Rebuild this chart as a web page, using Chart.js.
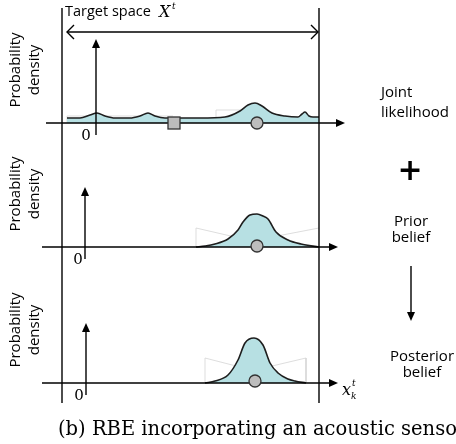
<!DOCTYPE html>
<html>
<head>
<meta charset="utf-8">
<script src="https://cdn.jsdelivr.net/npm/chart.js@4.4.0/dist/chart.umd.js"></script>
<style>
  html, body { margin: 0; padding: 0; background: #ffffff; }
  #wrap { width: 456px; height: 444px; }
</style>
</head>
<body>
<div id="wrap"><canvas id="rbeChart" width="456" height="444"></canvas></div>
<script>
// Schematic units: x = position in target space, y = height on the page (down)
const panelBase = [123, 247, 383];

// Joint likelihood curve (heights above panel axis)
const jointX = [67, 80, 90, 97, 105, 115, 130, 140, 148, 155, 165, 200, 225, 240, 248, 255, 262, 272, 285, 298, 302, 305, 309, 313, 319];
const jointH = [5, 5, 8, 10, 7, 5, 5, 7, 10, 7, 5, 5, 6, 12, 18, 20, 17, 10, 7, 6, 9, 11, 7, 6, 6];

// Prior belief curve
const priorX = [196, 205, 215, 228, 238, 243, 250, 257, 263, 268, 276, 288, 301, 319];
const priorH = [0, 1, 3, 8, 17, 25, 32, 33, 31, 28, 15, 7, 3, 0];

// Posterior belief curve
const postX = [205, 215, 228, 238, 245, 254, 263, 270, 278, 288, 295, 306];
const postH = [0, 2, 8, 23, 40, 45, 38, 20, 10, 4, 2, 0];

// Faint ghost outlines of truncated priors
const ghostJointX = [67, 67, 173];
const ghostJointY = [123, 116, 116];
const ghostJoint2X = [216, 216, 240];
const ghostJoint2Y = [123, 110, 110];
const ghostPriorLX = [196, 196, 235];
const ghostPriorLY = [247, 228, 237];
const ghostPriorRX = [272, 319];
const ghostPriorRY = [237, 228];
const ghostPostLX = [205, 205, 236];
const ghostPostLY = [383, 358, 366];
const ghostPostRX = [272, 306, 306];
const ghostPostRY = [366, 358, 383];

// Markers: square = acoustic estimate, circles = target position
const squareX = [174];
const squareY = [123];
const circleX = [257, 257, 255];
const circleY = [123, 246, 381];

function curvePoints(xs, hs, base) {
    return xs.map((x, i) => ({ x: x, y: base - hs[i] }));
}
function pairPoints(xs, ys) {
    return xs.map((x, i) => ({ x: x, y: ys[i] }));
}

const fillColor = '#b7e0e3';
const lineColor = '#1e1e1e';
const sansFont = '"Open Sans", sans-serif';
const serifFont = '"DejaVu Serif", serif';

function curveDataset(xs, hs, base) {
    return {
        type: 'line',
        data: curvePoints(xs, hs, base),
        borderColor: lineColor,
        borderWidth: 1.6,
        backgroundColor: fillColor,
        fill: { value: base },
        pointRadius: 0,
        cubicInterpolationMode: 'monotone',
        order: 3
    };
}
function ghostDataset(xs, ys) {
    return {
        type: 'line',
        data: pairPoints(xs, ys),
        borderColor: '#d4d4d4',
        borderWidth: 0.8,
        fill: false,
        pointRadius: 0,
        tension: 0,
        order: 5
    };
}

// Axes, arrows and texts drawn over the plot area
const schematicPlugin = {
    id: 'schematic',
    afterDatasetsDraw(chart) {
        const ctx = chart.ctx;
        const xs = chart.scales.x, ys = chart.scales.y;
        const px = v => xs.getPixelForValue(v);
        const py = v => ys.getPixelForValue(v);

        ctx.save();
        ctx.strokeStyle = '#000';
        ctx.fillStyle = '#000';
        ctx.lineWidth = 1.4;

        function line(x1, y1, x2, y2) {
            ctx.beginPath();
            ctx.moveTo(px(x1), py(y1));
            ctx.lineTo(px(x2), py(y2));
            ctx.stroke();
        }
        function headRight(x, y) {
            ctx.beginPath();
            ctx.moveTo(px(x), py(y));
            ctx.lineTo(px(x) - 9, py(y) - 4);
            ctx.lineTo(px(x) - 9, py(y) + 4);
            ctx.closePath();
            ctx.fill();
        }
        function headUp(x, y) {
            ctx.beginPath();
            ctx.moveTo(px(x), py(y));
            ctx.lineTo(px(x) - 4, py(y) + 9);
            ctx.lineTo(px(x) + 4, py(y) + 9);
            ctx.closePath();
            ctx.fill();
        }
        function headDown(x, y) {
            ctx.beginPath();
            ctx.moveTo(px(x), py(y));
            ctx.lineTo(px(x) - 4, py(y) - 9);
            ctx.lineTo(px(x) + 4, py(y) - 9);
            ctx.closePath();
            ctx.fill();
        }

        // target space bounds
        line(62, 8, 62, 403);
        line(319, 8, 319, 403);

        // double-headed arrow across target space
        line(67, 32, 318, 32);
        ctx.beginPath();
        ctx.moveTo(px(74), py(25)); ctx.lineTo(px(67), py(32)); ctx.lineTo(px(74), py(39));
        ctx.moveTo(px(311), py(25)); ctx.lineTo(px(318), py(32)); ctx.lineTo(px(311), py(39));
        ctx.stroke();

        // panel axes
        const axisStart = [46, 42, 42];
        const axisEnd = [345, 338, 338];
        const yArrowX = [96, 85, 86];
        const yArrowTop = [39, 187, 323];
        const zeroX = [86, 78, 79];
        panelBase.forEach((b, i) => {
            line(axisStart[i], b, axisEnd[i] - 6, b);
            headRight(axisEnd[i], b);
            line(yArrowX[i], b + 12, yArrowX[i], yArrowTop[i] + 6);
            headUp(yArrowX[i], yArrowTop[i]);

            ctx.font = '15px ' + serifFont;
            ctx.textAlign = 'center';
            ctx.textBaseline = 'middle';
            ctx.fillText('0', px(zeroX[i]), py(b + 13));

            ctx.save();
            ctx.translate(px(16), py(b - 53));
            ctx.rotate(-Math.PI / 2);
            ctx.font = '15px ' + sansFont;
            ctx.fillText('Probability', 0, 0);
            ctx.fillText('density', 0, 19);
            ctx.restore();
        });

        // title
        ctx.textAlign = 'left';
        ctx.textBaseline = 'middle';
        ctx.font = '14.5px ' + sansFont;
        ctx.fillText('Target space', px(65), py(12));
        ctx.font = 'italic 16px ' + serifFont;
        ctx.fillText('X', px(159), py(13));
        ctx.font = 'italic 9px ' + serifFont;
        ctx.fillText('t', px(172), py(7));

        // x_k^t label
        ctx.font = 'italic 16px ' + serifFont;
        ctx.fillText('x', px(342), py(391));
        ctx.font = 'italic 9px ' + serifFont;
        ctx.fillText('t', px(352), py(384));
        ctx.fillText('k', px(351), py(397));

        // right-hand labels
        ctx.font = '15px ' + sansFont;
        ctx.fillText('Joint', px(381), py(93));
        ctx.fillText('likelihood', px(381), py(113));
        ctx.textAlign = 'center';
        ctx.font = 'bold 30px "DejaVu Sans", sans-serif';
        ctx.fillText('+', px(410), py(172));
        ctx.font = '15px ' + sansFont;
        ctx.fillText('Prior', px(411), py(222));
        ctx.fillText('belief', px(411), py(238));
        ctx.fillText('Posterior', px(422), py(357));
        ctx.fillText('belief', px(422), py(373));

        ctx.lineWidth = 1.4;
        line(411, 266, 411, 312);
        headDown(411, 321);

        // caption
        ctx.textAlign = 'left';
        ctx.textBaseline = 'alphabetic';
        ctx.font = '19.5px ' + serifFont;
        ctx.fillText('(b) RBE incorporating an acoustic sensor', px(58), py(435));

        ctx.restore();
    },
    afterDraw(chart) {
        // markers sit on top of the axes
        const mctx = chart.ctx;
        const sx = chart.scales.x, sy = chart.scales.y;
        mctx.save();
        mctx.fillStyle = '#bdbdbd';
        mctx.strokeStyle = '#333';
        mctx.lineWidth = 1.3;
        squareX.forEach((x, i) => {
            const X = sx.getPixelForValue(x), Y = sy.getPixelForValue(squareY[i]);
            mctx.fillRect(X - 6, Y - 6, 12, 12);
            mctx.strokeRect(X - 6, Y - 6, 12, 12);
        });
        circleX.forEach((x, i) => {
            const X = sx.getPixelForValue(x), Y = sy.getPixelForValue(circleY[i]);
            mctx.beginPath();
            mctx.arc(X, Y, 6, 0, Math.PI * 2);
            mctx.fill();
            mctx.stroke();
        });
        mctx.restore();
    }
};

const ctx = document.getElementById('rbeChart').getContext('2d');
new Chart(ctx, {
    type: 'line',
    data: {
        datasets: [
            ghostDataset(ghostJointX, ghostJointY),
            ghostDataset(ghostJoint2X, ghostJoint2Y),
            ghostDataset(ghostPriorLX, ghostPriorLY),
            ghostDataset(ghostPriorRX, ghostPriorRY),
            ghostDataset(ghostPostLX, ghostPostLY),
            ghostDataset(ghostPostRX, ghostPostRY),
            curveDataset(jointX, jointH, panelBase[0]),
            curveDataset(priorX, priorH, panelBase[1]),
            curveDataset(postX, postH, panelBase[2])
        ]
    },
    options: {
        responsive: false,
        animation: false,
        events: [],
        layout: { padding: 0 },
        plugins: { legend: { display: false }, tooltip: { enabled: false } },
        scales: {
            x: { type: 'linear', display: false, min: 0, max: 456 },
            y: { type: 'linear', display: false, min: 0, max: 444, reverse: true }
        }
    },
    plugins: [schematicPlugin]
});
</script>
</body>
</html>
